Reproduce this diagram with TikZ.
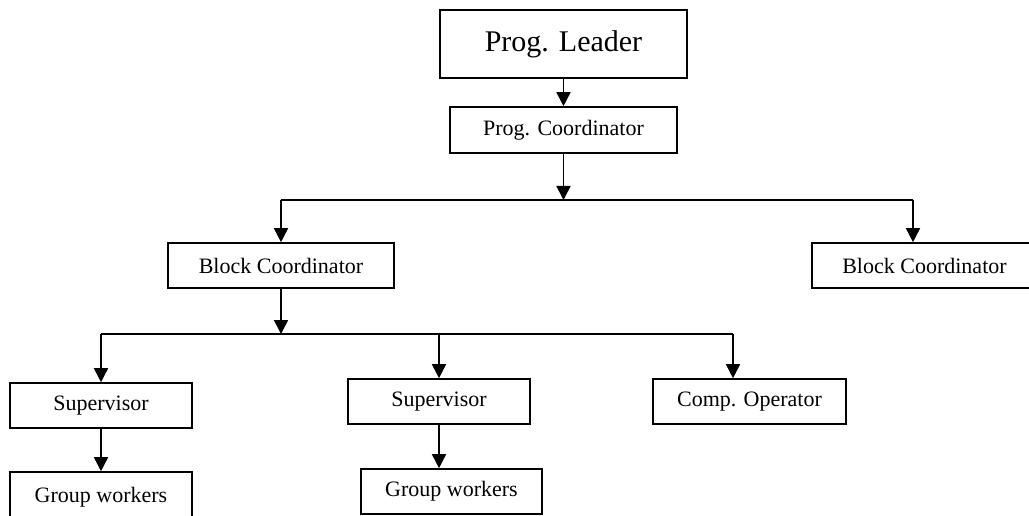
\documentclass[tikz,border=0pt]{standalone}
\usepackage{fontspec}
\setmainfont{Liberation Serif}
\usetikzlibrary{arrows.meta}
\begin{document}
\begin{tikzpicture}[x=1pt,y=-1pt,
  box/.style={draw,line width=1.6pt,inner sep=0pt,font=\fontsize{22}{26}\selectfont},
  conn/.style={line width=1.6pt},
  arr/.style={conn,-{Triangle[width=14pt,length=14pt]}}]
\useasboundingbox (0,0) rectangle (1029,516);
\node[box,minimum width=247pt,minimum height=68pt,font=\fontsize{30}{36}\selectfont] (lead) at (563.5,44) {Prog. Leader};
\node[box,minimum width=227pt,minimum height=46pt] (pc) at (563.5,130) {Prog. Coordinator};
\node[box,minimum width=226pt,minimum height=45pt] (bc1) at (281,265.5) {Block Coordinator};
\node[box,minimum width=225pt,minimum height=45pt] (bc2) at (924.5,265.5) {Block Coordinator};
\node[box,minimum width=182pt,minimum height=45pt] (sv1) at (101,405.5) {Supervisor};
\node[box,minimum width=182pt,minimum height=45pt] (sv2) at (439,401.5) {Supervisor};
\node[box,minimum width=193pt,minimum height=45pt] (co) at (749.5,401.5) {Comp. Operator};
\node[box,minimum width=182pt,minimum height=50pt] (gw1) at (101,497) {Group workers};
\node[box,minimum width=181pt,minimum height=45pt] (gw2) at (451.5,491.5) {Group workers};
% top bus
\coordinate (b1) at (563.5,200);
\coordinate (b1l) at (bc1.north |- b1);
\coordinate (b1r) at (913,200);
\coordinate (bc2t) at (b1r |- bc2.north);
\draw[arr] (lead.south) -- (pc.north);
\draw[arr] (pc.south) -- (b1);
\draw[conn] (b1l) -- (b1r);
\draw[arr] (b1l) -- (bc1.north);
\draw[arr] (b1r) -- (bc2t);
% bottom bus
\coordinate (b2) at (281,334);
\coordinate (b2l) at (sv1.north |- b2);
\coordinate (b2m) at (sv2.north |- b2);
\coordinate (b2r) at (733,334);
\coordinate (cot) at (b2r |- co.north);
\draw[arr] (bc1.south) -- (b2);
\draw[conn] (b2l) -- (b2r);
\draw[arr] (b2l) -- (sv1.north);
\draw[arr] (b2m) -- (sv2.north);
\draw[arr] (b2r) -- (cot);
% group workers
\draw[arr] (sv1.south) -- (gw1.north);
\draw[arr] (sv2.south) -- (sv2.south |- gw2.north);
\end{tikzpicture}
\end{document}
